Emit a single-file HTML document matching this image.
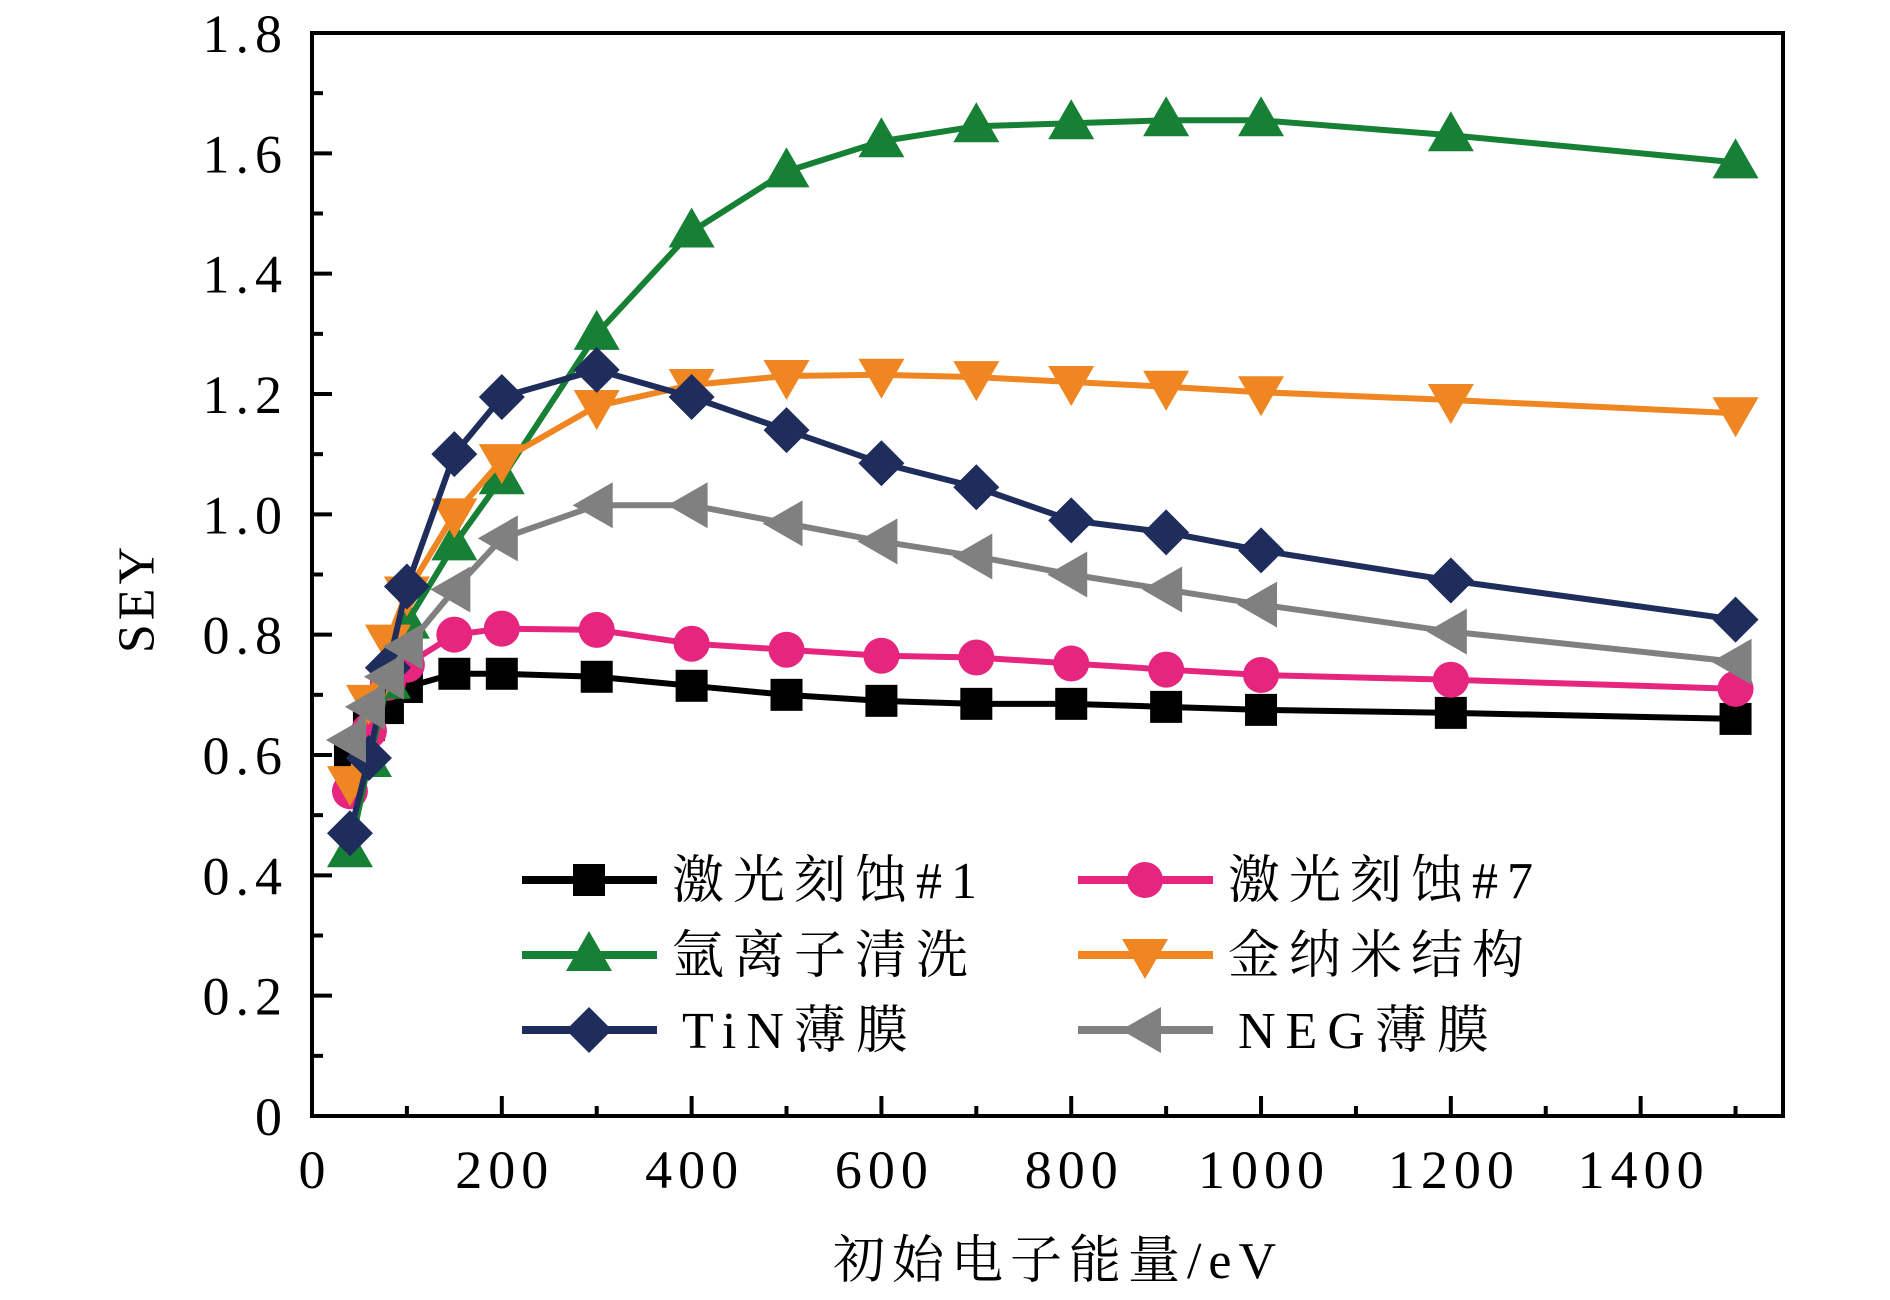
<!DOCTYPE html>
<html><head><meta charset="utf-8"><style>
html,body{margin:0;padding:0;background:#fff;}
svg{display:block;}
text{font-family:"Liberation Serif","Noto Serif CJK SC",serif;fill:#000;}
</style></head><body>
<svg id="chart" width="1890" height="1300" viewBox="0 0 1890 1300" xmlns="http://www.w3.org/2000/svg">
<g id="series-layer"></g>
<g id="axes-layer"></g>
<g id="legend"></g>
<text x="137" y="598" font-size="52" letter-spacing="4" text-anchor="middle" dominant-baseline="central" transform="rotate(-90 137 598)">SEY</text>
<text x="1058" y="1278" font-size="52" letter-spacing="7" text-anchor="middle">初始电子能量/eV</text>
</svg>
<script>
const energies = [40,60,80,100,150,200,300,400,500,600,700,800,900,1000,1200,1500];
const seriesNames = ["激光刻蚀#1","激光刻蚀#7","氩离子清洗","金纳米结构","TiN薄膜","NEG薄膜"];
const laser1 = [0.595,0.65,0.678,0.713,0.735,0.735,0.73,0.715,0.70,0.69,0.685,0.685,0.68,0.675,0.67,0.66];
const laser7 = [0.54,0.64,0.72,0.75,0.80,0.81,0.808,0.785,0.775,0.765,0.762,0.752,0.742,0.733,0.725,0.71];
const argon = [0.44,0.59,0.72,0.82,0.95,1.06,1.30,1.47,1.57,1.62,1.645,1.65,1.655,1.655,1.63,1.585];
const goldNano = [0.555,0.69,0.79,0.87,1.0,1.09,1.18,1.215,1.23,1.232,1.228,1.22,1.212,1.203,1.19,1.168];
const tin = [0.47,0.595,0.745,0.88,1.10,1.195,1.24,1.195,1.14,1.085,1.045,0.99,0.97,0.94,0.89,0.825];
const neg = [0.625,0.68,0.73,0.78,0.875,0.96,1.015,1.015,0.985,0.955,0.93,0.90,0.875,0.85,0.805,0.755];
const xTicks = [0,200,400,600,800,1000,1200,1400];
const yTicks = [0,0.2,0.4,0.6,0.8,1.0,1.2,1.4,1.6,1.8];
const yTickLabels = ["0","0.2","0.4","0.6","0.8","1.0","1.2","1.4","1.6","1.8"];

const NS="http://www.w3.org/2000/svg";
const L=312,R=1783,T=33,B=1116,XMAX=1550,YMAX=1.8;
function xs(v){return L+(v/XMAX)*(R-L);}
function ys(v){return B-(v/YMAX)*(B-T);}
function mk(tag,attrs,parent){const e=document.createElementNS(NS,tag);for(const k in attrs)e.setAttribute(k,attrs[k]);parent.appendChild(e);return e;}

const colors=["#000000","#e6257f","#168035","#f08622","#1f2d5c","#808080"];
const shapes=["square","circle","up","down","diamond","left"];
const datasets=[laser1,laser7,argon,goldNano,tin,neg];
const keys=["laser-etch-1","laser-etch-7","argon-ion-clean","gold-nanostructure","tin-film","neg-film"];

function marker(shape,cx,cy,color,parent){
  let e;
  if(shape==="square"){e=mk("rect",{x:cx-16,y:cy-16,width:32,height:32,fill:color},parent);}
  else if(shape==="circle"){e=mk("circle",{cx:cx,cy:cy,r:18,fill:color},parent);}
  else if(shape==="up"){e=mk("polygon",{points:`${cx},${cy-24} ${cx+23},${cy+16} ${cx-23},${cy+16}`,fill:color},parent);}
  else if(shape==="down"){e=mk("polygon",{points:`${cx},${cy+24} ${cx+23},${cy-16} ${cx-23},${cy-16}`,fill:color},parent);}
  else if(shape==="diamond"){e=mk("polygon",{points:`${cx},${cy-23} ${cx+23},${cy} ${cx},${cy+23} ${cx-23},${cy}`,fill:color},parent);}
  else {e=mk("polygon",{points:`${cx-24},${cy} ${cx+16},${cy-23} ${cx+16},${cy+23}`,fill:color},parent);}
  return e;
}

const sl=document.getElementById("series-layer");
datasets.forEach((d,i)=>{
  const g=mk("g",{},sl);
  
  
  const pts=d.map((v,j)=>xs(energies[j])+","+ys(v)).join(" ");
  const pl=mk("polyline",{points:pts,fill:"none",stroke:colors[i],"stroke-width":6,"stroke-linejoin":"round"},g);
  
  
  d.forEach((v,j)=>{
    const m=marker(shapes[i],xs(energies[j]),ys(v),colors[i],g);
    
    
  });
});

const ax=document.getElementById("axes-layer");
const frame=mk("rect",{x:L,y:T,width:R-L,height:B-T,fill:"none",stroke:"#000","stroke-width":4},ax);


for(let v=100;v<=1500;v+=100){
  const major=v%200===0;
  const t=mk("line",{x1:xs(v),x2:xs(v),y1:B,y2:B-(major?20:10),stroke:"#000","stroke-width":4},ax);
  
  
}
xTicks.forEach(v=>{
  const t=mk("text",{x:xs(v)+3,y:1188,"font-size":54,"letter-spacing":6,"text-anchor":"middle"},ax);
  t.textContent=String(v);
  
  
});
for(let k=1;k<18;k++){
  const v=k/10;const major=k%2===0;
  const t=mk("line",{x1:L,x2:L+(major?20:11),y1:ys(v),y2:ys(v),stroke:"#000","stroke-width":4},ax);
  
  
}
yTicks.forEach((v,i)=>{
  const t=mk("text",{x:288,y:ys(v)+19,"font-size":54,"letter-spacing":6,"text-anchor":"end"},ax);
  t.textContent=yTickLabels[i];
  
  
});

const lg=document.getElementById("legend");
const legendPos=[[522,880],[1078,880],[522,955],[1078,955],[522,1030],[1078,1030]];
legendPos.forEach((p,i)=>{
  const [x0,y0]=p;
  const g=mk("g",{},lg);
  
  
  mk("line",{x1:x0,x2:x0+135,y1:y0,y2:y0,stroke:colors[i],"stroke-width":8},g);
  marker(shapes[i],x0+67,y0,colors[i],g);
  const t=mk("text",{x:x0+(i>=4?160:150),y:y0+18,"font-size":52,"letter-spacing":(i>=4?10:9)},g);
  t.textContent=seriesNames[i];
});
</script>
</body></html>
